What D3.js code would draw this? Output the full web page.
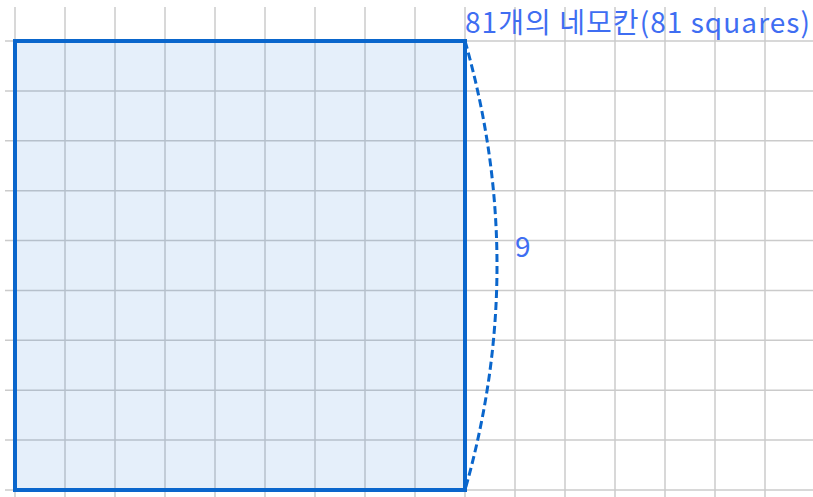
<!DOCTYPE html>
<html>
<head>
<meta charset="utf-8">
<script src="https://cdn.jsdelivr.net/npm/d3@7"></script>
<style>
  html, body { margin: 0; padding: 0; background: #fff; }
  svg { display: block; }
</style>
</head>
<body>
<svg id="chart" width="813" height="497"></svg>
<script>
"use strict";

// grid lines (in square units)
var gridX = d3.range(0, 16);
var gridY = d3.range(0, 10);

// the square: side of 9 units
var side = 9;
var squareLabel = "81개의 네모칸(81 squares)";
var sideLabel = "9";
var arcBulge = 0.64;

var width = 813, height = 497;

var svg = d3.select("#chart"),
  x = d3.scaleLinear().domain([0, 1]).range([15, 65]),
  y = d3.scaleLinear().domain([0, 9]).range([490, 41]),
  font = "'Noto Sans CJK KR', 'Noto Sans', sans-serif",
  textColor = "#3f6ef2"
;

var grid = svg.append("g").attr("class", "grid");

grid.selectAll("line.v")
  .data(gridX)
  .enter().append("line")
  .attr("class", "v")
  .attr("x1", d => x(d)).attr("x2", d => x(d))
  .attr("y1", 7).attr("y2", height)
  .attr("stroke", "#cbcbcb")
  .attr("stroke-width", 1.5);

grid.selectAll("line.h")
  .data(gridY)
  .enter().append("line")
  .attr("class", "h")
  .attr("x1", 5).attr("x2", width)
  .attr("y1", d => y(d)).attr("y2", d => y(d))
  .attr("stroke", "#cbcbcb")
  .attr("stroke-width", 1.5);

// filled square
svg.append("rect")
  .attr("x", x(0))
  .attr("y", y(side))
  .attr("width", x(side) - x(0))
  .attr("height", y(0) - y(side))
  .attr("fill", "rgba(0,102,204,0.1)")
  .attr("stroke", "#0a66cc")
  .attr("stroke-width", 4);

// dashed arc along the right side
var p = d3.path();
p.moveTo(x(side), y(side));
p.quadraticCurveTo(x(side + 2 * arcBulge), y(side / 2), x(side), y(0));

svg.append("path")
  .attr("d", p.toString())
  .attr("fill", "none")
  .attr("stroke", "#0a66cc")
  .attr("stroke-width", 3)
  .attr("stroke-dasharray", "8 4");

svg.append("text")
  .attr("x", x(side))
  .attr("y", y(side) - 8)
  .attr("font-family", font)
  .attr("font-size", 28)
  .attr("textLength", 345)
  .attr("lengthAdjust", "spacing")
  .attr("fill", textColor)
  .text(squareLabel);

svg.append("text")
  .attr("x", x(side + 1))
  .attr("y", y(side / 2) - 9)
  .attr("font-family", font)
  .attr("font-size", 28)
  .attr("fill", textColor)
  .text(sideLabel);
</script>
</body>
</html>
